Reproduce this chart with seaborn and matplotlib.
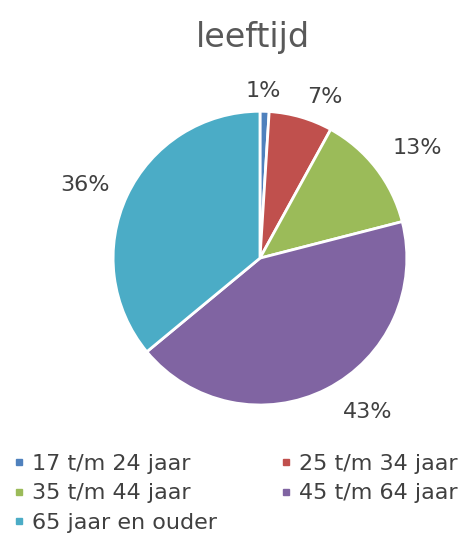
import matplotlib
matplotlib.use("Agg")
import matplotlib.pyplot as plt
import seaborn as sns
from matplotlib.lines import Line2D

# age groups and their share (%)
categories = ["17 t/m 24 jaar", "25 t/m 34 jaar", "35 t/m 44 jaar",
              "45 t/m 64 jaar", "65 jaar en ouder"]
shares = [1, 7, 13, 43, 36]
colors = ["#4F81BD", "#C0504D", "#9BBB59", "#8064A2", "#4BACC6"]

sns.set_theme(style="white")
plt.rcParams['font.family'] = ['DejaVu Sans']
text_color = "#404040"

fig = plt.figure(figsize=(4.68, 5.37), dpi=100)
ax = fig.add_axes([0.2415, 0.2458, 0.628, 0.547])

wedges, texts, autotexts = ax.pie(
    shares, colors=colors, startangle=90, counterclock=False,
    autopct="%1.0f%%", pctdistance=1.28,
    wedgeprops=dict(edgecolor="white", linewidth=2),
    textprops=dict(fontsize=16, color=text_color, clip_on=False))
ax.set_aspect("equal")
ax.set_xlim(-1, 1)
ax.set_ylim(-1, 1)

# label placement nudged to follow the original layout
autotexts[0].set_position((0.02, 1.14))
autotexts[1].set_position((0.44, 1.10))
autotexts[2].set_position((1.07, 0.75))
autotexts[3].set_position((0.73, -1.05))
autotexts[4].set_position((-1.19, 0.50))

fig.text(0.54, 0.93, "leeftijd", ha="center", va="center",
         fontsize=24, color="#595959")

handles = [Line2D([], [], marker="s", linestyle="none", markersize=5,
                  color=c) for c in colors]
order = [0, 2, 4, 1, 3]
fig.legend([handles[i] for i in order], [categories[i] for i in order],
           loc="upper left", bbox_to_anchor=(0.007, 0.171), ncol=2,
           frameon=False, fontsize=16, labelcolor=text_color,
           handlelength=0.6, handletextpad=0.3, columnspacing=2.8,
           labelspacing=0.42, borderaxespad=0)

fig.savefig("out.png", dpi=100)
